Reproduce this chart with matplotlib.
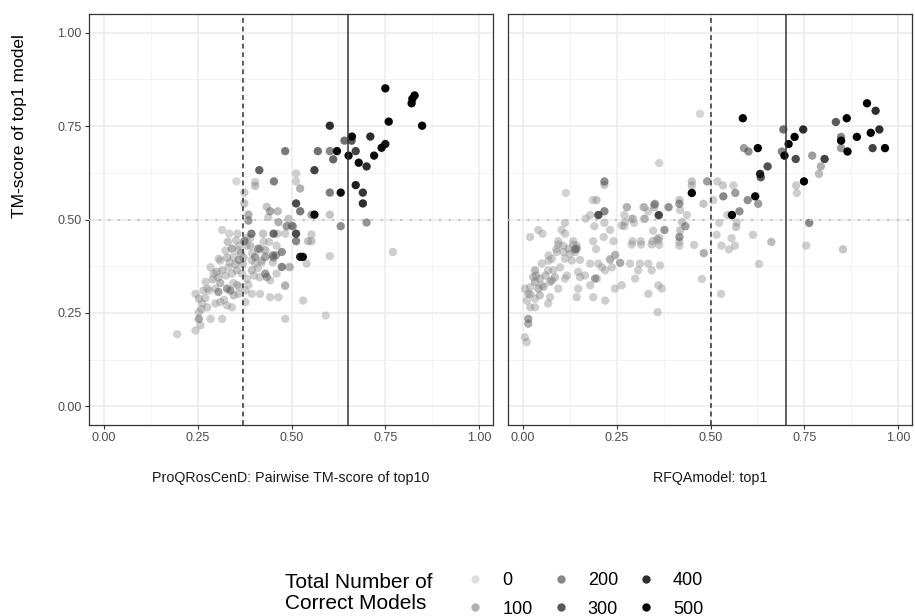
import matplotlib
matplotlib.use("Agg")
import matplotlib.pyplot as plt
import numpy as np
from matplotlib.colors import LinearSegmentedColormap
from matplotlib.lines import Line2D

plt.rcParams["font.family"] = ["Liberation Sans", "DejaVu Sans"]

# ProQRosCenD panel: pairwise TM-score of top10, TM-score of top1, number of correct models
left_x = [0.75, 0.828, 0.822, 0.82, 0.759, 0.848, 0.602, 0.661, 0.641, 0.66, 0.71, 0.75, 0.74,
          0.57, 0.602, 0.621, 0.611, 0.671, 0.652, 0.679, 0.72, 0.70, 0.561, 0.671, 0.631, 0.602,
          0.69, 0.69, 0.561, 0.553, 0.602, 0.631, 0.70, 0.77, 0.602, 0.53, 0.523, 0.544, 0.553,
          0.512, 0.512, 0.523, 0.512, 0.523, 0.503, 0.512, 0.512, 0.553,
          0.483, 0.414, 0.453, 0.353, 0.403, 0.403, 0.374, 0.374, 0.434, 0.443, 0.463, 0.385, 0.385,
          0.438, 0.465, 0.492, 0.50, 0.487, 0.315, 0.334, 0.393, 0.424, 0.452, 0.463, 0.483, 0.352,
          0.374, 0.474, 0.356,
          0.324, 0.341, 0.359, 0.411, 0.403, 0.45, 0.416, 0.43, 0.458,
          0.306, 0.328, 0.359, 0.372, 0.394, 0.43, 0.452, 0.474, 0.493, 0.496, 0.54,
          0.284, 0.292, 0.315, 0.332, 0.341, 0.354, 0.368, 0.381, 0.394, 0.403, 0.43, 0.434, 0.443,
          0.271, 0.275, 0.297, 0.305, 0.328, 0.337, 0.346, 0.359, 0.377, 0.394, 0.416, 0.443, 0.465, 0.483,
          0.244, 0.253, 0.262, 0.275, 0.297, 0.31, 0.328, 0.341, 0.377,
          0.253, 0.253, 0.257, 0.244, 0.284, 0.315, 0.483, 0.531, 0.195, 0.591, 0.483,
          0.36, 0.38, 0.33, 0.35, 0.40, 0.42, 0.31, 0.29, 0.27, 0.26, 0.365, 0.345, 0.39, 0.41,
          0.30, 0.32, 0.36, 0.44, 0.46, 0.39, 0.28,
          0.335, 0.37, 0.395, 0.42, 0.45, 0.355, 0.385, 0.305, 0.325, 0.265, 0.415, 0.46, 0.345,
          0.38, 0.31, 0.425]
left_y = [0.851, 0.832, 0.823, 0.811, 0.762, 0.751, 0.751, 0.722, 0.711, 0.711, 0.722, 0.702, 0.692,
          0.683, 0.683, 0.683, 0.661, 0.683, 0.671, 0.652, 0.671, 0.642, 0.632, 0.592, 0.572, 0.572,
          0.572, 0.543, 0.513, 0.513, 0.513, 0.482, 0.492, 0.413, 0.402, 0.40, 0.40, 0.442, 0.442,
          0.623, 0.602, 0.583, 0.543, 0.522, 0.482, 0.462, 0.442, 0.46,
          0.683, 0.632, 0.602, 0.602, 0.60, 0.59, 0.572, 0.543, 0.534, 0.522, 0.522, 0.513, 0.497,
          0.506, 0.493, 0.502, 0.484, 0.482, 0.472, 0.462, 0.462, 0.462, 0.462, 0.462, 0.462, 0.444,
          0.442, 0.413, 0.462,
          0.417, 0.422, 0.417, 0.422, 0.40, 0.404, 0.42, 0.418, 0.404,
          0.395, 0.398, 0.392, 0.398, 0.391, 0.40, 0.398, 0.373, 0.373, 0.372, 0.382,
          0.372, 0.355, 0.364, 0.372, 0.355, 0.364, 0.355, 0.341, 0.364, 0.382, 0.355, 0.346, 0.337,
          0.333, 0.315, 0.315, 0.306, 0.315, 0.31, 0.297, 0.301, 0.31, 0.301, 0.301, 0.292, 0.292, 0.324,
          0.301, 0.288, 0.275, 0.265, 0.275, 0.279, 0.27, 0.265, 0.279,
          0.252, 0.234, 0.217, 0.203, 0.234, 0.234, 0.234, 0.283, 0.193, 0.243, 0.322,
          0.43, 0.45, 0.44, 0.38, 0.35, 0.39, 0.33, 0.34, 0.29, 0.26, 0.41, 0.33, 0.43, 0.37,
          0.36, 0.285, 0.32, 0.44, 0.43, 0.45, 0.31,
          0.385, 0.38, 0.41, 0.385, 0.385, 0.325, 0.325, 0.345, 0.35, 0.31, 0.345, 0.355, 0.4,
          0.43, 0.39, 0.44]
left_n = [500, 500, 500, 480, 500, 500, 400, 480, 250, 300, 400, 450, 480,
          250, 200, 480, 270, 350, 480, 480, 480, 400, 350, 430, 480, 220,
          380, 400, 480, 120, 60, 180, 170, 40, 40, 470, 430, 60, 60,
          40, 40, 100, 330, 230, 180, 330, 200, 40,
          230, 280, 220, 20, 40, 60, 50, 60, 60, 120, 80, 100, 150,
          40, 100, 60, 50, 160, 30, 30, 220, 60, 260, 40, 40, 40,
          160, 180, 40,
          40, 100, 40, 150, 120, 150, 60, 80, 120,
          40, 60, 100, 60, 40, 120, 100, 200, 40, 40, 40,
          40, 40, 60, 40, 40, 60, 40, 40, 60, 40, 150, 100, 40,
          40, 40, 40, 130, 140, 130, 60, 40, 40, 40, 40, 40, 40, 40,
          40, 60, 40, 40, 40, 40, 40, 40, 40,
          40, 120, 40, 40, 40, 40, 40, 40, 30, 30, 40,
          40, 40, 60, 60, 40, 40, 80, 60, 40, 40, 60, 40, 60, 40,
          60, 40, 40, 40, 40, 40, 40,
          40, 60, 40, 40, 40, 40, 40, 60, 40, 40, 40, 40, 40,
          40, 40, 40]

# RFQAmodel panel: top1 score, TM-score of top1, number of correct models
right_x = [0.917, 0.94, 0.586, 0.863, 0.834, 0.694, 0.747, 0.95, 0.927, 0.89, 0.724, 0.848, 0.848,
           0.708, 0.589, 0.601, 0.626, 0.848, 0.865, 0.932, 0.965, 0.69, 0.697, 0.727, 0.771, 0.804,
           0.652, 0.632, 0.634, 0.794, 0.789, 0.749, 0.728, 0.73, 0.491, 0.518, 0.533, 0.561, 0.534,
           0.566, 0.599, 0.619, 0.627, 0.481, 0.507, 0.557, 0.577, 0.545, 0.57, 0.568, 0.523, 0.516,
           0.556, 0.565, 0.529, 0.549, 0.613, 0.662, 0.755, 0.853, 0.763, 0.472, 0.629, 0.528, 0.477,
           0.482,
           0.363, 0.217, 0.217, 0.114, 0.186, 0.196, 0.45, 0.45, 0.45, 0.417, 0.417, 0.35, 0.35, 0.388,
           0.277, 0.323, 0.334, 0.217, 0.201, 0.362, 0.179, 0.167, 0.27, 0.293, 0.27, 0.296, 0.323,
           0.419, 0.437, 0.424, 0.433, 0.419, 0.377, 0.417, 0.417, 0.417, 0.217, 0.19, 0.232, 0.241,
           0.215, 0.187, 0.195, 0.112, 0.103, 0.112, 0.041, 0.052, 0.019, 0.094, 0.089, 0.107, 0.134,
           0.143, 0.138, 0.125, 0.068, 0.246, 0.232, 0.292, 0.314, 0.345, 0.363, 0.363, 0.456,
           0.094, 0.134, 0.143, 0.139, 0.121, 0.108, 0.09, 0.077, 0.068, 0.05, 0.152, 0.13, 0.112,
           0.032, 0.027, 0.032, 0.045, 0.05, 0.041, 0.045, 0.032, 0.019, 0.005, 0.014, 0.01, 0.019,
           0.032, 0.014, 0.014, 0.005, 0.01,
           0.067, 0.081, 0.099, 0.072, 0.077, 0.094, 0.067, 0.072,
           0.117, 0.112, 0.147, 0.152, 0.165, 0.147, 0.143, 0.179, 0.187, 0.192, 0.219, 0.197,
           0.179, 0.201, 0.21, 0.219, 0.237, 0.245, 0.232, 0.259, 0.285, 0.312, 0.334, 0.365,
           0.245, 0.263, 0.299, 0.307, 0.343, 0.334, 0.361, 0.37, 0.359,
           0.29, 0.315, 0.343, 0.347, 0.357, 0.361, 0.263, 0.272, 0.29, 0.321, 0.277, 0.325, 0.361,
           0.352, 0.14, 0.06, 0.085, 0.055, 0.035, 0.02]
right_y = [0.811, 0.791, 0.771, 0.771, 0.761, 0.741, 0.741, 0.741, 0.732, 0.721, 0.721, 0.721, 0.711,
           0.702, 0.691, 0.682, 0.691, 0.691, 0.682, 0.691, 0.691, 0.682, 0.671, 0.662, 0.671, 0.662,
           0.642, 0.622, 0.613, 0.642, 0.622, 0.602, 0.591, 0.571, 0.602, 0.602, 0.591, 0.591, 0.562,
           0.571, 0.552, 0.562, 0.542, 0.542, 0.552, 0.512, 0.522, 0.512, 0.492, 0.48, 0.491, 0.459,
           0.45, 0.43, 0.43, 0.42, 0.459, 0.44, 0.43, 0.42, 0.491, 0.783, 0.381, 0.301, 0.341,
           0.41,
           0.651, 0.602, 0.593, 0.571, 0.552, 0.552, 0.602, 0.591, 0.571, 0.552, 0.542, 0.54, 0.533, 0.533,
           0.533, 0.533, 0.522, 0.522, 0.512, 0.512, 0.512, 0.502, 0.512, 0.502, 0.482, 0.491, 0.502,
           0.525, 0.512, 0.493, 0.482, 0.471, 0.472, 0.453, 0.44, 0.43, 0.491, 0.482, 0.472, 0.442,
           0.453, 0.442, 0.421, 0.491, 0.472, 0.462, 0.472, 0.462, 0.453, 0.442, 0.421, 0.43, 0.442,
           0.43, 0.421, 0.408, 0.404, 0.406, 0.394, 0.442, 0.442, 0.442, 0.451, 0.432, 0.432,
           0.433, 0.433, 0.422, 0.413, 0.422, 0.413, 0.413, 0.395, 0.39, 0.382, 0.392, 0.39, 0.395,
           0.364, 0.346, 0.333, 0.342, 0.324, 0.315, 0.297, 0.288, 0.319, 0.315, 0.301, 0.283, 0.265,
           0.265, 0.234, 0.221, 0.185, 0.172,
           0.364, 0.364, 0.372, 0.333, 0.337, 0.315, 0.275, 0.292,
           0.35, 0.342, 0.36, 0.346, 0.35, 0.315, 0.292, 0.324, 0.292, 0.342, 0.283, 0.342,
           0.382, 0.382, 0.372, 0.364, 0.372, 0.404, 0.392, 0.384, 0.382, 0.382, 0.382, 0.377,
           0.315, 0.324, 0.342, 0.364, 0.364, 0.301, 0.324, 0.315, 0.252,
           0.433, 0.433, 0.433, 0.47, 0.448, 0.444, 0.484, 0.493, 0.502, 0.533, 0.533, 0.502, 0.51,
           0.542, 0.42, 0.35, 0.345, 0.32, 0.35, 0.30]
right_n = [500, 400, 500, 500, 300, 250, 400, 400, 500, 500, 500, 200, 500,
           500, 150, 180, 500, 150, 500, 350, 500, 200, 500, 330, 150, 350,
           320, 420, 300, 100, 80, 500, 50, 40, 150, 40, 50, 40, 200,
           150, 180, 480, 150, 60, 40, 500, 180, 40, 40, 60, 40, 40,
           40, 40, 40, 40, 40, 80, 40, 60, 200, 20, 40, 40, 40,
           100,
           30, 180, 60, 30, 30, 60, 60, 60, 500, 60, 150, 100, 60, 170,
           40, 40, 40, 200, 320, 320, 40, 40, 40, 40, 40, 40, 40,
           40, 40, 60, 140, 60, 160, 160, 40, 40, 40, 40, 40, 40,
           40, 40, 40, 40, 40, 40, 40, 40, 40, 40, 40, 40, 40,
           40, 60, 40, 40, 40, 40, 40, 40, 40, 40, 40, 40,
           40, 40, 100, 40, 60, 40, 40, 40, 40, 40, 40, 40, 40,
           80, 60, 80, 60, 40, 80, 60, 40, 40, 40, 60, 40, 40,
           40, 130, 100, 40, 40,
           40, 40, 40, 60, 60, 40, 40, 40,
           40, 40, 40, 40, 40, 40, 40, 40, 40, 120, 40, 40,
           40, 40, 40, 40, 40, 40, 40, 120, 40, 40, 40, 40,
           40, 40, 40, 40, 40, 40, 40, 40, 40,
           40, 40, 40, 40, 40, 40, 40, 40, 40, 40, 40, 40, 40,
           100, 100, 60, 60, 60, 60, 40]

panel_titles = ["ProQRosCenD: Pairwise TM-score of top10", "RFQAmodel: top1"]
dashed_cut = [0.37, 0.50]
solid_cut = [0.65, 0.70]
legend_levels = [0, 100, 200, 300, 400, 500]
ticks = [0.0, 0.25, 0.5, 0.75, 1.0]
tick_labels = ["0.00", "0.25", "0.50", "0.75", "1.00"]

# light grey -> black, with opacity rising along with the count
cmap = LinearSegmentedColormap.from_list("greys_alpha", [
    (0.63, 0.63, 0.63, 0.35),
    (0.39, 0.39, 0.39, 0.50),
    (0.24, 0.24, 0.24, 0.62),
    (0.12, 0.12, 0.12, 0.74),
    (0.04, 0.04, 0.04, 0.86),
    (0.0, 0.0, 0.0, 1.0),
])
norm = plt.Normalize(0, 500)

fig = plt.figure(figsize=(9.15, 6.16), dpi=100)
ax_l = fig.add_axes([89 / 915, 1 - 425 / 616, 404 / 915, 411 / 616])
ax_r = fig.add_axes([508 / 915, 1 - 425 / 616, 404 / 915, 411 / 616])

panels = [(ax_l, left_x, left_y, left_n), (ax_r, right_x, right_y, right_n)]
for i, (ax, xs, ys, ns) in enumerate(panels):
    order = np.argsort(ns, kind="stable")
    xs, ys, ns = np.asarray(xs)[order], np.asarray(ys)[order], np.asarray(ns)[order]
    ax.scatter(xs, ys, c=ns, cmap=cmap, norm=norm, s=36, linewidths=0, zorder=3)
    ax.axhline(0.5, color="#bdbdbd", lw=1.4, ls=(0, (1, 4)), zorder=4)
    ax.axvline(dashed_cut[i], color="#333333", lw=1.1, ls=(0, (3.2, 2.4)), zorder=4)
    ax.axvline(solid_cut[i], color="#333333", lw=1.1, zorder=4)

    ax.set_xlim(-0.04, 1.037)
    ax.set_ylim(-0.05, 1.05)
    ax.set_xticks(ticks)
    ax.set_xticklabels(tick_labels)
    ax.set_xticks([0.125, 0.375, 0.625, 0.875], minor=True)
    ax.set_yticks(ticks)
    ax.set_yticks([0.125, 0.375, 0.625, 0.875], minor=True)
    ax.grid(which="major", color="#ebebeb", lw=1.1, zorder=0)
    ax.grid(which="minor", color="#f2f2f2", lw=0.6, zorder=0)
    ax.set_axisbelow(True)
    for sp in ax.spines.values():
        sp.set_color("#333333")
        sp.set_linewidth(0.9)
    ax.tick_params(which="major", length=2.75, width=0.8, color="#333333",
                   labelsize=9, labelcolor="#4d4d4d", pad=2.5)
    ax.tick_params(which="minor", length=0)
    ax.set_xlabel(panel_titles[i], fontsize=10.3, color="#1a1a1a", labelpad=19)

ax_l.set_yticklabels(tick_labels)
ax_r.tick_params(axis="y", which="major", length=0, labelleft=False)

fig.text(20 / 915, 1 - 126 / 616, "TM-score of top1 model", rotation=90,
         ha="center", va="center", fontsize=12.5)

# legend
handles = [Line2D([], [], marker="o", ls="", markersize=6, markeredgewidth=0,
                  color=cmap(norm(v))) for v in legend_levels]
fig.legend(handles, [str(v) for v in legend_levels], ncol=3, loc="upper left",
           bbox_to_anchor=(459 / 915, 1 - 563 / 616), frameon=False, fontsize=13,
           handlelength=0.8, handletextpad=1.1, columnspacing=1.15, labelspacing=0.65,
           borderpad=0)
fig.text(285 / 915, 1 - 593 / 616, "Total Number of\nCorrect Models", ha="left",
         va="center", fontsize=15, linespacing=1.1)

fig.savefig("out.png", dpi=100)
